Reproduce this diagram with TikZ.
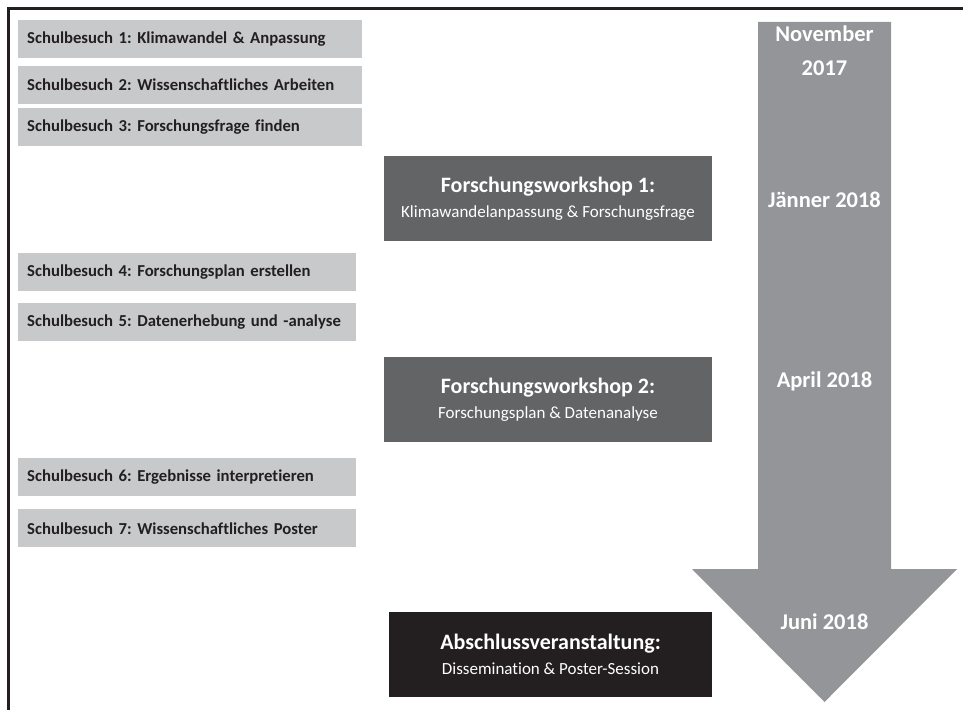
\documentclass[tikz,border=0pt]{standalone}
\usepackage{fontspec}
\setmainfont{Carlito}[Ligatures=NoCommon]
\frenchspacing
\definecolor{boxlight}{HTML}{C8C9CB}
\definecolor{boxdark}{HTML}{636466}
\definecolor{boxblack}{HTML}{231F20}
\definecolor{arrowgray}{HTML}{939598}
\definecolor{inkdark}{HTML}{231F20}
\tikzset{
  sbox/.style={fill=boxlight, draw=none, anchor=north west, minimum height=38pt,
    inner xsep=9pt, inner ysep=0pt, align=left, text=inkdark,
    font=\fontsize{16.7}{20}\selectfont\bfseries},
  wbox/.style={fill=boxdark, draw=none, minimum width=328pt, minimum height=85pt,
    align=center, text=white, inner sep=0pt},
  ebox/.style={wbox, fill=boxblack, minimum width=323pt},
  datelbl/.style={text=white, align=center, inner sep=0pt,
    font=\fontsize{22.5}{26}\selectfont\bfseries},
  frameline/.style={draw=inkdark, line width=3pt}
}
\newcommand{\wtitle}[2]{{\fontsize{22}{25}\selectfont\bfseries #1}\\[8pt]{\fontsize{17}{20}\selectfont #2}}
\begin{document}
\begin{tikzpicture}[x=1pt,y=-1pt]
\useasboundingbox (0,0) rectangle (963,709);
% frame
\draw[frameline] (8.5,712) -- (8.5,8.5) -- (966,8.5);
% timeline arrow
\fill[arrowgray] (758,22) -- (891,22) -- (891,569) -- (957,569) -- (824.5,702) -- (692,569) -- (758,569) -- cycle;
\coordinate (tip) at (824.5,702);
% school visits
\node[sbox, text width=326pt] (s1) at (18,20) {Schulbesuch 1: Klimawandel \& Anpassung};
\node[sbox, text width=326pt] (s2) at (18,66) {Schulbesuch 2: Wissenschaftliches Arbeiten};
\node[sbox, text width=326pt] (s3) at (18,108) {Schulbesuch 3: Forschungsfrage finden};
\node[sbox, text width=320pt] (s4) at (18,253) {Schulbesuch 4: Forschungsplan erstellen};
\node[sbox, text width=320pt] (s5) at (18,303) {Schulbesuch 5: Datenerhebung und -analyse};
\node[sbox, text width=320pt] (s6) at (18,458) {Schulbesuch 6: Ergebnisse interpretieren};
\node[sbox, text width=320pt] (s7) at (18,509) {Schulbesuch 7: Wissenschaftliches Poster};
% workshops
\node[wbox] (w1) at (548,198.5) {\wtitle{Forschungsworkshop 1:}{Klimawandelanpassung \& Forschungsfrage}};
\node[wbox] (w2) at (548,399.5) {\wtitle{Forschungsworkshop 2:}{Forschungsplan \& Datenanalyse}};
\node[ebox] (ab) at (550.5,654.5) {\wtitle{Abschlussveranstaltung:}{Dissemination \& Poster-Session}};
% dates
\node[datelbl] (d1) at (824.5,51) {November\\[8pt]2017};
\node[datelbl] (d2) at (824.5,200) {Jänner 2018};
\node[datelbl] (d3) at (824.5,381) {April 2018};
\node[datelbl] (d4) at (824.5,622) {Juni 2018};
\end{tikzpicture}
\end{document}
